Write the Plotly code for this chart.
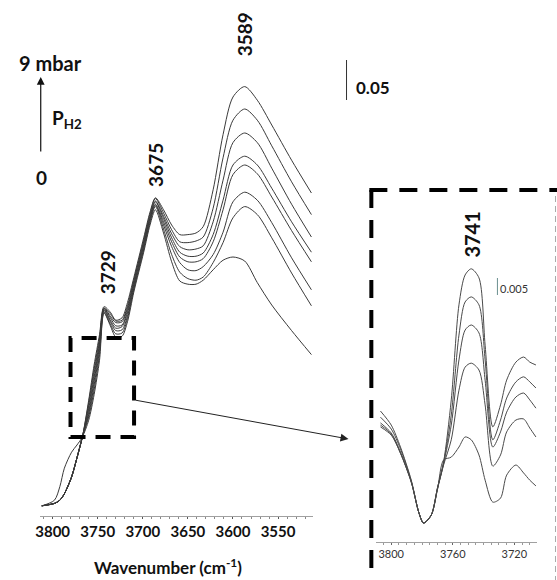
import plotly.graph_objects as go

# ---------------- data ----------------
# Main spectra: wavenumber (cm-1) and absorbance of 8 spectra (highest H2 pressure first)
WN_MAIN = [3812, 3798, 3792, 3787, 3779, 3773, 3767, 3760, 3754, 3748, 3743, 3736, 3730,
           3723, 3717, 3710, 3699, 3692, 3686, 3677, 3668, 3659, 3650, 3641, 3633, 3622,
           3611, 3600, 3587, 3573, 3557, 3535, 3513]

MAIN_1 = [-0.001, 0.002, 0.006, 0.014, 0.035, 0.059, 0.085, 0.131, 0.175, 0.213, 0.248, 0.241, 0.231,
          0.234, 0.253, 0.284, 0.334, 0.366, 0.384, 0.369, 0.350, 0.338, 0.338, 0.340, 0.348, 0.394,
          0.463, 0.510, 0.523, 0.506, 0.475, 0.431, 0.390]
MAIN_2 = [-0.001, 0.002, 0.006, 0.014, 0.035, 0.059, 0.085, 0.128, 0.170, 0.209, 0.246, 0.239, 0.230,
          0.231, 0.249, 0.281, 0.331, 0.364, 0.383, 0.365, 0.344, 0.329, 0.328, 0.330, 0.335, 0.371,
          0.434, 0.481, 0.495, 0.481, 0.449, 0.404, 0.363]
MAIN_3 = [-0.001, 0.002, 0.006, 0.014, 0.035, 0.059, 0.085, 0.124, 0.165, 0.205, 0.246, 0.236, 0.228,
          0.229, 0.246, 0.279, 0.329, 0.361, 0.380, 0.361, 0.339, 0.323, 0.319, 0.320, 0.324, 0.354,
          0.406, 0.453, 0.465, 0.453, 0.421, 0.376, 0.335]
MAIN_4 = [-0.001, 0.002, 0.006, 0.014, 0.035, 0.059, 0.085, 0.120, 0.160, 0.201, 0.245, 0.234, 0.224,
          0.225, 0.243, 0.276, 0.326, 0.359, 0.379, 0.358, 0.334, 0.316, 0.311, 0.311, 0.315, 0.338,
          0.381, 0.425, 0.436, 0.425, 0.396, 0.354, 0.316]
MAIN_5 = [-0.001, 0.002, 0.006, 0.014, 0.035, 0.059, 0.085, 0.116, 0.155, 0.198, 0.244, 0.231, 0.221,
          0.223, 0.240, 0.274, 0.324, 0.358, 0.376, 0.354, 0.329, 0.310, 0.304, 0.304, 0.308, 0.329,
          0.369, 0.413, 0.425, 0.414, 0.385, 0.343, 0.304]
MAIN_6 = [-0.001, 0.002, 0.006, 0.014, 0.035, 0.059, 0.085, 0.113, 0.150, 0.193, 0.243, 0.229, 0.218,
          0.219, 0.236, 0.271, 0.321, 0.355, 0.375, 0.350, 0.323, 0.303, 0.294, 0.293, 0.298, 0.313,
          0.341, 0.379, 0.391, 0.381, 0.353, 0.309, 0.269]
MAIN_7 = [-0.001, 0.002, 0.006, 0.014, 0.035, 0.059, 0.085, 0.110, 0.144, 0.188, 0.241, 0.226, 0.214,
          0.215, 0.233, 0.269, 0.319, 0.353, 0.373, 0.345, 0.313, 0.291, 0.283, 0.281, 0.285, 0.303,
          0.328, 0.359, 0.373, 0.363, 0.334, 0.290, 0.249]
MAIN_8 = [-0.001, 0.006, 0.023, 0.046, 0.066, 0.075, 0.085, 0.106, 0.138, 0.181, 0.240, 0.224, 0.210,
          0.211, 0.229, 0.266, 0.316, 0.350, 0.369, 0.340, 0.304, 0.280, 0.276, 0.276, 0.281, 0.294,
          0.306, 0.310, 0.305, 0.278, 0.250, 0.218, 0.188]
MAIN_SERIES = [MAIN_1, MAIN_2, MAIN_3, MAIN_4, MAIN_5, MAIN_6, MAIN_7, MAIN_8]

# Inset (zoom of the 3800-3705 cm-1 region), 5 spectra
WN_INSET = [3807, 3800, 3794, 3787, 3782, 3779, 3774, 3770, 3766, 3761, 3756, 3752, 3748,
            3743, 3739, 3734, 3729, 3725, 3719, 3714, 3710, 3706]
INSET_1 = [0.0311, 0.0272, 0.0211, 0.0119, 0.0028, 0.0000, 0.0022, 0.0097, 0.0169, 0.0342, 0.0606,
           0.0689, 0.0706, 0.0681, 0.0494, 0.0267, 0.0328, 0.0397, 0.0447, 0.0461, 0.0447, 0.0439]
INSET_2 = [0.0294, 0.0261, 0.0206, 0.0117, 0.0028, 0.0000, 0.0022, 0.0097, 0.0167, 0.0300, 0.0522,
           0.0614, 0.0628, 0.0606, 0.0453, 0.0231, 0.0286, 0.0347, 0.0392, 0.0406, 0.0392, 0.0375]
INSET_3 = [0.0278, 0.0250, 0.0197, 0.0114, 0.0028, 0.0000, 0.0022, 0.0094, 0.0164, 0.0272, 0.0453,
           0.0536, 0.0550, 0.0528, 0.0397, 0.0211, 0.0253, 0.0308, 0.0350, 0.0361, 0.0342, 0.0319]
INSET_4 = [0.0272, 0.0247, 0.0194, 0.0114, 0.0028, 0.0000, 0.0022, 0.0094, 0.0161, 0.0231, 0.0369,
           0.0433, 0.0444, 0.0425, 0.0328, 0.0158, 0.0189, 0.0253, 0.0286, 0.0289, 0.0264, 0.0239]
INSET_5 = [0.0267, 0.0244, 0.0194, 0.0114, 0.0028, 0.0000, 0.0022, 0.0092, 0.0175, 0.0183, 0.0211,
           0.0239, 0.0231, 0.0189, 0.0119, 0.0058, 0.0069, 0.0133, 0.0161, 0.0139, 0.0119, 0.0103]
INSET_SERIES = [INSET_1, INSET_2, INSET_3, INSET_4, INSET_5]

PEAK_LABELS_MAIN = ["3589", "3675", "3729"]
PEAK_LABEL_INSET = "3741"

# ---------------- figure ----------------
W, H = 557, 580
FONT = "Lato"


def X(p):
    return p / W


def Y(p):
    return 1 - p / H


fig = go.Figure()
for s in MAIN_SERIES:
    fig.add_trace(go.Scatter(x=WN_MAIN, y=s, mode="lines", xaxis="x", yaxis="y",
                             line=dict(color="#3a3a3a", width=1, shape="spline", smoothing=0.8),
                             hoverinfo="skip", showlegend=False))
for s in INSET_SERIES:
    fig.add_trace(go.Scatter(x=WN_INSET, y=s, mode="lines", xaxis="x2", yaxis="y2",
                             line=dict(color="#4a4a4a", width=1, shape="spline", smoothing=0.8),
                             hoverinfo="skip", showlegend=False))

fig.update_layout(
    width=W, height=H, margin=dict(l=0, r=0, t=0, b=0),
    paper_bgcolor="white", plot_bgcolor="white", showlegend=False,
    xaxis=dict(domain=[X(36), X(311)], range=[3814.3, 3511.5], anchor="y",
               showline=True, linecolor="#a0a0a0", linewidth=1,
               ticks="outside", ticklen=2, tickcolor="#555", tickmode="linear",
               tick0=3550, dtick=50, showgrid=False, zeroline=False,
               tickfont=dict(family=FONT, size=15, color="#111", weight="bold"),
               minor=dict(dtick=10, ticks="outside", ticklen=2, tickcolor="#888", showgrid=False)),
    yaxis=dict(domain=[Y(516), 1], range=[-0.01375, 0.63125], visible=False, anchor="x"),
    xaxis2=dict(domain=[X(375), X(537)], range=[3809.7, 3705.2], anchor="y2",
                showline=True, linecolor="#a0a0a0", linewidth=1,
                ticks="outside", ticklen=2, tickcolor="#666", tickmode="linear",
                tick0=3720, dtick=40, showgrid=False, zeroline=False,
                tickfont=dict(family=FONT, size=11, color="#333"),
                minor=dict(dtick=5, ticks="outside", ticklen=2, tickcolor="#999", showgrid=False)),
    yaxis2=dict(domain=[Y(542), 1], range=[-0.005278, 0.145278], visible=False, anchor="x2"),
)

bold = dict(family=FONT, size=19, color="#111", weight="bold")
ann = []


def text(t, x, y, font, angle=0, xanchor="center"):
    ann.append(dict(text=t, x=X(x), y=Y(y), xref="paper", yref="paper", showarrow=False,
                    xanchor=xanchor, yanchor="middle", textangle=angle, font=font))


text("9 mbar", 47, 63, dict(family=FONT, size=20, color="#111", weight="bold"))
text("P<sub>H2</sub>", 46, 119, bold, xanchor="left")
text("0", 38, 177, bold)
text(PEAK_LABELS_MAIN[0], 242, 34, bold, angle=-90)
text(PEAK_LABELS_MAIN[1], 152, 165, bold, angle=-90)
text(PEAK_LABELS_MAIN[2], 104, 272, bold, angle=-90)
text("0.05", 353, 88, dict(family=FONT, size=17, color="#111", weight="bold"), xanchor="left")
text(PEAK_LABEL_INSET, 471, 235, dict(family=FONT, size=20, color="#111", weight="bold"), angle=-90)
text("0.005", 498, 288, dict(family=FONT, size=11, color="#333"), xanchor="left")
text("Wavenumber (cm<sup>-1</sup>)", 165, 566, dict(family=FONT, size=17, color="#111", weight="bold"))

# pressure arrow
ann.append(dict(x=X(37), y=Y(77), xref="paper", yref="paper", ax=0, ay=76, text="",
                showarrow=True, arrowhead=2, arrowsize=1.3, arrowwidth=1.2, arrowcolor="#111"))
# zoom arrow from dashed box to inset
ann.append(dict(x=X(347), y=Y(439), xref="paper", yref="paper", ax=-214, ay=-39, text="",
                showarrow=True, arrowhead=2, arrowsize=1.6, arrowwidth=1, arrowcolor="#222"))

fig.update_layout(annotations=ann)

shapes = [
    # scale bar 0.05
    dict(type="line", xref="paper", yref="paper", x0=X(345), x1=X(345), y0=Y(60), y1=Y(100),
         line=dict(color="#333", width=1)),
    # inset scale bar 0.005
    dict(type="line", xref="paper", yref="paper", x0=X(497), x1=X(497), y0=Y(278), y1=Y(295),
         line=dict(color="#6a8f8f", width=1)),
    # small dashed selection box
    dict(type="rect", xref="paper", yref="paper", x0=X(67), x1=X(131), y0=Y(437), y1=Y(338),
         line=dict(color="#000", width=4, dash="15px,10px")),
    # inset frame: left and top thick dashes
    dict(type="line", xref="paper", yref="paper", x0=X(370), x1=X(370), y0=Y(190), y1=Y(585),
         line=dict(color="#000", width=4, dash="18px,12px")),
    dict(type="line", xref="paper", yref="paper", x0=X(368), x1=X(560), y0=Y(190), y1=Y(190),
         line=dict(color="#000", width=4, dash="18px,12px")),
    # inset frame right edge, thin grey dashes
    dict(type="line", xref="paper", yref="paper", x0=X(555.5), x1=X(555.5), y0=Y(196), y1=Y(585),
         line=dict(color="#aaa", width=1, dash="6px,4px")),
]
fig.update_layout(shapes=shapes)

fig.write_html("out.html", config={"displayModeBar": False},
               post_script="document.body.style.margin='0';document.body.style.overflow='hidden';")
